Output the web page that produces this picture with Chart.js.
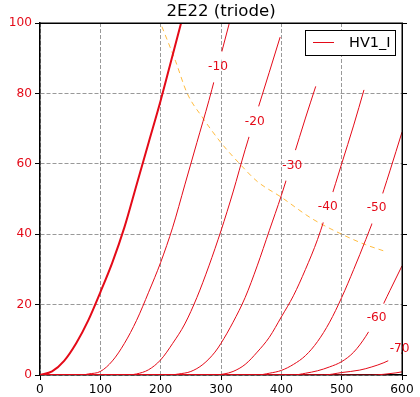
<!DOCTYPE html>
<html><head><meta charset="utf-8">
<script src="https://cdn.jsdelivr.net/npm/chart.js@4.4.1/dist/chart.umd.min.js"></script>
<style>html,body{margin:0;padding:0;background:#fff}#wrap{width:420px;height:397px;position:relative}</style>
</head><body><div id="wrap"><canvas id="c"></canvas></div>
<script>
// ---- data ----
const gridVoltages = [0, -10, -20, -30, -40, -50, -60, -70, -80];
const va_g0  = [0,20,40,60,80,100,120,140,160,180,200,220,240];
const ia_g0  = [0,1,4,9,15.5,23.5,32,42,54,66,78,91,104];
const va_g10 = [0,70,80,100,120,140,160,180,200,220,240,260,280,300,320];
const ia_g10 = [0,0,0.3,1,4,9,15.5,23.5,32,42,54,66,78,91,104];
const va_g20 = [0,145,160,180,200,220,240,260,280,300,320,340,360,380,398];
const ia_g20 = [0,0,0.3,1.5,4.3,9,14.5,22,31,41,52,64,75,86,96];
const va_g30 = [0,215,230,250,270,290,300,320,340,360,380,400,420,440,457];
const ia_g30 = [0,0,0.3,1,3,6.5,9,15,22,31,41,51,62,73,82];
const va_g40 = [0,290,305,320,340,360,380,400,420,440,460,480,500,520,537];
const ia_g40 = [0,0,0.3,1,3,6.5,10.7,16.5,22.5,30,38.5,49,60,71,81];
const va_g50 = [0,360,380,400,420,440,460,480,500,520,540,560,580,600];
const ia_g50 = [0,0,0.5,1.3,3,5.5,9.5,15,22,30,38.5,47.5,58,69];
const va_g60 = [0,420,440,460,480,500,520,540,560,580,600];
const ia_g60 = [0,0,0.5,1.2,2.3,3.8,6.5,11,17,24,31];
const va_g70 = [0,470,500,530,550,570,590,610];
const ia_g70 = [0,0,0.7,1.4,2.3,3.5,5.2,7.5];
const va_g80 = [0,550,570,590,600];
const ia_g80 = [0,0,0.2,0.6,0.9];
// plate dissipation limit (dashed orange)
const dissV = [202,225,244,270,300,331,360,400,450,500,540,569];
const dissI = [99,89,80,73,66,60,55,50.5,44.5,40,37,35.3];
// inline curve labels
const labelText  = ['-10','-20','-30','-40','-50','-60','-70'];
const labelV     = [295,356,418,477,558,558,596];
const labelI     = [87.5,71.9,59.4,47.7,47.4,16.2,7.4];
const labelCurve = [1,2,3,4,5,6,7];
const seriesName = 'HV1_I';
const chartTitle = '2E22 (triode)';

const RED = 'rgb(228,10,24)';
Chart.defaults.font.family = "'DejaVu Sans', sans-serif";

const curves = [[va_g0,ia_g0],[va_g10,ia_g10],[va_g20,ia_g20],[va_g30,ia_g30],[va_g40,ia_g40],
                [va_g50,ia_g50],[va_g60,ia_g60],[va_g70,ia_g70],[va_g80,ia_g80]];
const datasets = curves.map((c, i) => ({
  label: i === 0 ? seriesName : '_nolegend_' + gridVoltages[i],
  data: c[0].map((v, j) => ({x: v, y: c[1][j]})),
  borderColor: RED, borderWidth: i === 0 ? 2 : 1,
  pointRadius: 0, fill: false, cubicInterpolationMode: 'monotone'
}));
datasets.push({
  label: '_nolegend_diss',
  data: dissV.map((v, j) => ({x: v, y: dissI[j]})),
  borderColor: 'rgba(255,165,0,0.75)', borderWidth: 1, borderDash: [5,4],
  pointRadius: 0, fill: false, cubicInterpolationMode: 'monotone'
});

const framePlugin = {
  id: 'frame',
  afterDatasetsDraw(chart) {
    const {ctx, chartArea: a, scales: {y}} = chart;
    ctx.save();
    ctx.strokeStyle = '#000'; ctx.lineWidth = 1.5;
    ctx.beginPath();
    ctx.moveTo(a.left, a.top + 0.25); ctx.lineTo(a.right + 0.25, a.top + 0.25);
    ctx.lineTo(a.right + 0.25, a.bottom);
    ctx.stroke();
    ctx.lineWidth = 1;
    y.ticks.forEach(t => {
      const py = Math.round(y.getPixelForValue(t.value)) + 0.5;
      ctx.beginPath(); ctx.moveTo(a.right, py); ctx.lineTo(a.right + 5, py); ctx.stroke();
    });
    ctx.restore();
  }
};

const labelPlugin = {
  id: 'curveLabels',
  afterDatasetsDraw(chart) {
    const {ctx, chartArea: a, scales: {x, y}} = chart;
    ctx.save();
    ctx.font = "12.2px 'DejaVu Sans'";
    for (let i = 0; i < labelText.length; i++) {
      const px = x.getPixelForValue(labelV[i]), py = y.getPixelForValue(labelI[i]);
      const meta = chart.getDatasetMeta(labelCurve[i]);
      let best = null, bd = Infinity;
      for (let j = 0; j < meta.data.length - 1; j++) {
        const p = meta.data[j], q = meta.data[j + 1];
        const dx = q.x - p.x, dy = q.y - p.y, L2 = dx * dx + dy * dy;
        if (!L2) continue;
        let t = ((px - p.x) * dx + (py - p.y) * dy) / L2;
        t = Math.max(0, Math.min(1, t));
        const cx = p.x + t * dx, cy = p.y + t * dy, d = (cx - px) ** 2 + (cy - py) ** 2;
        if (d < bd) { bd = d; const L = Math.sqrt(L2); best = {cx, cy, ux: dx / L, uy: dy / L}; }
      }
      const w = ctx.measureText(labelText[i]).width;
      if (best) {
        const half = (w + 12) / 2;
        ctx.save();
        ctx.beginPath(); ctx.rect(a.left + 1, a.top + 1, a.right - a.left - 2, a.bottom - a.top - 2); ctx.clip();
        ctx.strokeStyle = '#fff'; ctx.lineWidth = 4;
        ctx.beginPath();
        ctx.moveTo(best.cx - best.ux * half, best.cy - best.uy * half);
        ctx.lineTo(best.cx + best.ux * half, best.cy + best.uy * half);
        ctx.stroke();
        ctx.restore();
      }
      ctx.fillStyle = RED; ctx.textAlign = 'center'; ctx.textBaseline = 'middle';
      ctx.fillText(labelText[i], px, py);
    }
    ctx.restore();
  }
};

const legendPlugin = {
  id: 'mplLegend',
  afterDraw(chart) {
    const {ctx, chartArea: a} = chart;
    const ds = chart.data.datasets[0];
    ctx.save();
    ctx.font = "14.5px 'DejaVu Sans'";
    const tw = ctx.measureText(ds.label).width;
    const padL = 8, lineLen = 21, gap = 15, padR = 4, h = 25;
    const w = Math.round(padL + lineLen + gap + tw + padR);
    const right = Math.round(a.right - 7), top = Math.round(a.top + 7);
    const left = right - w;
    ctx.fillStyle = '#fff'; ctx.fillRect(left, top, w, h);
    ctx.strokeStyle = '#000'; ctx.lineWidth = 1; ctx.strokeRect(left + 0.5, top + 0.5, w, h);
    ctx.strokeStyle = ds.borderColor; ctx.lineWidth = 1;
    ctx.beginPath(); ctx.moveTo(left + padL, top + h / 2); ctx.lineTo(left + padL + lineLen, top + h / 2); ctx.stroke();
    ctx.fillStyle = '#000'; ctx.textBaseline = 'middle'; ctx.textAlign = 'left';
    ctx.fillText(ds.label, left + padL + lineLen + gap, top + h / 2 + 1);
    ctx.restore();
  }
};

new Chart(document.getElementById('c'), {
  type: 'line',
  data: {datasets},
  plugins: [framePlugin, labelPlugin, legendPlugin],
  options: {
    responsive: true, maintainAspectRatio: false, animation: false,
    layout: {padding: {left: 0, right: 18, top: 0, bottom: 0}},
    plugins: {
      legend: {display: false}, tooltip: {enabled: false},
      title: {display: true, text: chartTitle, color: '#000', padding: 0, fullSize: false,
              font: {size: 16.6, weight: 'normal', lineHeight: 23 / 16.6}}
    },
    scales: {
      x: {
        type: 'linear', min: 0, max: 600,
        afterFit(s) { s.height = 22; },
        ticks: {stepSize: 100, color: '#000', font: {size: 12.2}, padding: 3, maxRotation: 0},
        grid: {color: '#999', lineWidth: 1, tickLength: 5, tickColor: '#000', tickWidth: 1, drawTicks: true},
        border: {display: true, color: '#000', width: 1.5, dash: [4, 2]}
      },
      y: {
        type: 'linear', min: 0, max: 100,
        afterFit(s) { s.width = 40; },
        ticks: {stepSize: 20, color: RED, font: {size: 12.2}, padding: 3},
        grid: {color: '#999', lineWidth: 1, tickLength: 5, tickColor: '#000', tickWidth: 1, drawTicks: true},
        border: {display: true, color: '#000', width: 1.5, dash: [4, 2]}
      }
    }
  }
});
</script>
</body></html>
